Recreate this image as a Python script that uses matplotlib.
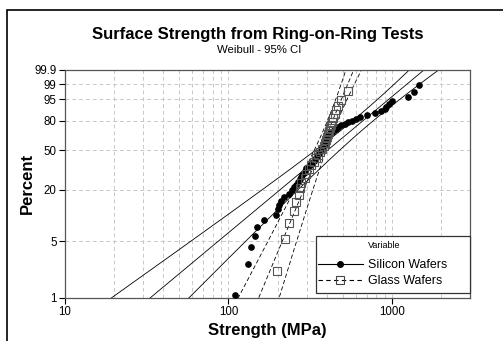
import numpy as np
import matplotlib
matplotlib.use('Agg')
import matplotlib.pyplot as plt
from matplotlib.lines import Line2D
from matplotlib.patches import Rectangle
from matplotlib.ticker import LogLocator, NullFormatter, FixedLocator

plt.rcParams['font.family'] = ['Liberation Sans', 'DejaVu Sans']

# strength readings (MPa), sorted
silicon = [110, 132, 138, 146, 150, 164, 196, 200, 204, 209,
           219, 235, 245, 253, 260, 267, 275, 279, 283, 291,
           295, 299, 307, 316, 326, 335, 340, 344, 350, 354,
           359, 364, 369, 374, 380, 385, 390, 396, 401, 401,
           407, 407, 413, 419, 431, 443, 455, 468, 489, 517,
           539, 570, 603, 637, 703, 786, 860, 900, 925, 963,
           1000, 1252, 1362, 1461]
glass = [199, 223, 236, 253, 260, 271, 273, 279, 295, 299,
         312, 321, 335, 344, 354, 364, 374, 385, 390, 396,
         401, 407, 413, 419, 425, 431, 437, 449, 456, 469,
         489, 539]

pct_ticks = [1, 5, 20, 50, 80, 95, 99, 99.9]
pct_labels = ['1', '5', '20', '50', '80', '95', '99', '99.9']
x_ticks = [10, 100, 1000]


def wscale(p):
    p = np.asarray(p, dtype=float) / 100.0
    return np.log(-np.log(1.0 - p))


def median_ranks(n):
    i = np.arange(1, n + 1)
    return 100.0 * (i - 0.3) / (n + 0.4)


def weibull_mle(x):
    x = np.sort(np.asarray(x, dtype=float))
    lx = np.log(x)
    s = x / x.max()

    def g(b):
        w = s ** b
        return np.sum(w * lx) / np.sum(w) - 1.0 / b - lx.mean()

    lo, hi = 0.05, 60.0
    for _ in range(200):
        mid = 0.5 * (lo + hi)
        if g(mid) > 0:
            hi = mid
        else:
            lo = mid
    beta = 0.5 * (lo + hi)
    eta = x.max() * np.mean(s ** beta) ** (1.0 / beta)
    # extreme value parametrisation for the covariance
    u, b = np.log(eta), 1.0 / beta
    z = (lx - u) / b
    ez = np.exp(z)
    n = len(x)
    info = np.array([[ez.sum(), (z * ez).sum()],
                     [(z * ez).sum(), n + (z * z * ez).sum()]]) / b ** 2
    cov = np.linalg.inv(info)
    return u, b, cov


def fit_lines(x, w):
    u, b, cov = weibull_mle(x)
    lt = u + b * w
    se = np.sqrt(cov[0, 0] + w ** 2 * cov[1, 1] + 2 * w * cov[0, 1])
    return np.exp(lt), np.exp(lt - 1.96 * se), np.exp(lt + 1.96 * se)


fig = plt.figure(figsize=(5.03, 3.41), dpi=100)
ax = fig.add_axes([65 / 503, 1 - 298 / 341, 405 / 503, 228 / 341])

w = np.linspace(wscale(0.5), wscale(99.95), 300)
for data, ls, mk in [(silicon, '-', 'o'), (glass, (0, (5, 3)), 's')]:
    mid, low, up = fit_lines(data, w)
    for line in (mid, low, up):
        ax.plot(line, w, color='black', lw=0.6, ls=ls, zorder=2)
    yy = wscale(median_ranks(len(data)))
    if mk == 'o':
        ax.plot(np.sort(data), yy, 'o', ms=3.8, color='black', mec='black', zorder=3)
    else:
        ax.plot(np.sort(data), yy, 's', ms=5.5, mfc='none', mec='#555555', mew=0.8, zorder=3)

ax.set_xscale('log')
ax.set_xlim(10, 3000)
ax.set_ylim(wscale(1), wscale(99.9))
ax.xaxis.set_major_locator(FixedLocator(x_ticks))
ax.set_xticklabels([str(t) for t in x_ticks])
ax.xaxis.set_minor_locator(LogLocator(base=10, subs=np.arange(2, 10)))
ax.xaxis.set_minor_formatter(NullFormatter())
ax.set_yticks(wscale(pct_ticks))
ax.set_yticklabels(pct_labels)
ax.tick_params(axis='both', which='major', labelsize=8.3, length=4, width=0.8,
               direction='out', pad=2)
ax.tick_params(axis='x', which='minor', length=0)
ax.grid(True, which='both', axis='x', color='#c8c8c8', ls=(0, (4, 3)), lw=0.7)
ax.grid(True, which='major', axis='y', color='#c8c8c8', ls=(0, (4, 3)), lw=0.7)
ax.set_axisbelow(True)
for side in ax.spines.values():
    side.set_color('#555555')
    side.set_linewidth(0.9)

fig.text(267 / 503, 1 - 330 / 341, 'Strength (MPa)', ha='center', va='center',
         fontsize=12, fontweight='bold')
fig.text(27 / 503, 1 - 183 / 341, 'Percent', ha='center', va='center',
         fontsize=12, fontweight='bold', rotation=90)

fig.text(258 / 503, 1 - 35 / 341, 'Surface Strength from Ring-on-Ring Tests',
         ha='center', va='center', fontsize=12, fontweight='bold')
fig.text(259 / 503, 1 - 50 / 341, 'Weibull - 95% CI', ha='center', va='center',
         fontsize=8.2)

# legend box drawn by hand so it can be wider on the right, like the original
box = Rectangle((316 / 503, 1 - 293 / 341), 154 / 503, 57 / 341, transform=fig.transFigure,
                facecolor='white', edgecolor='#333333', lw=0.9, zorder=4)
ax.add_artist(box)
box.set_clip_on(False)
handles = [Line2D([], [], color='black', lw=0.8, marker='o', ms=4),
           Line2D([], [], color='black', lw=0.8, ls=(0, (4, 3)), marker='s', ms=5.5,
                  mfc='none', mec='#444444', mew=0.8)]
leg = ax.legend(handles, ['Silicon Wafers', 'Glass Wafers'],
                loc='upper left', bbox_to_anchor=(318 / 503, 1 - 259 / 341),
                bbox_transform=fig.transFigure, borderaxespad=0,
                fontsize=8.9, frameon=False,
                handlelength=3.64, labelspacing=0.31,
                borderpad=0, handletextpad=0.4)
leg.set_zorder(5)
fig.text(368 / 503, 1 - 246 / 341, 'Variable', ha='left', va='center', fontsize=6.5,
         zorder=6)

fig.patches.append(Rectangle((7 / 503, -0.1), 1.2, 1.1 - 10 / 341, fill=False,
                             lw=1.2, edgecolor='black', transform=fig.transFigure))

fig.savefig('out.png', dpi=100)
